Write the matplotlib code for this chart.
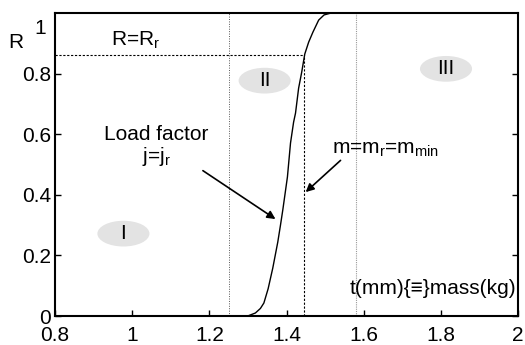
import matplotlib
matplotlib.use('Agg')
import matplotlib.pyplot as plt
from matplotlib.patches import Ellipse

plt.rcParams['font.family'] = ['Liberation Sans', 'DejaVu Sans']

# S-curve R(t)
t = [0.8, 1.299, 1.319, 1.332, 1.341, 1.352, 1.364, 1.377, 1.384, 1.390, 1.402, 1.410, 1.418,
     1.423, 1.431, 1.439, 1.447, 1.457, 1.468, 1.483, 1.497, 1.514, 2.0]
R = [0.0, 0.0, 0.01, 0.025, 0.043, 0.09, 0.158, 0.244, 0.30, 0.35, 0.459, 0.571, 0.64,
     0.67, 0.752, 0.805, 0.865, 0.904, 0.937, 0.977, 0.994, 1.0, 1.0]

R_r = 0.862
m_r = 1.444
x_lines = [1.25, 1.579]
x_ticks = [0.8, 1, 1.2, 1.4, 1.6, 1.8, 2]
y_ticks = [0, 0.2, 0.4, 0.6, 0.8]
regions = ['I', 'II', 'III']
region_x = [0.977, 1.343, 1.813]
region_y = [0.272, 0.777, 0.816]

fig = plt.figure(figsize=(5.25, 3.45), dpi=100)
ax = fig.add_axes([0.105, 0.084, 0.882, 0.878])

ax.plot(t, R, color='black', lw=1.0)
ax.plot([0.8, m_r], [R_r, R_r], color='black', lw=0.8, ls=(0, (2, 1.5)))
ax.plot([m_r, m_r], [0, R_r], color='black', lw=0.8, ls=(0, (2, 1.5)))
ax.plot([x_lines[0]] * 2, [0, 1], color='#555555', lw=0.7, ls=(0, (1, 1.5)))
ax.plot([x_lines[1]] * 2, [0, 1], color='#999999', lw=0.8, ls=(0, (1, 1)))

for name, cx, cy in zip(regions, region_x, region_y):
    ax.add_patch(Ellipse((cx, cy), 0.135, 0.085, color='#e3e3e3', lw=0, zorder=1))
    ax.text(cx, cy, name, ha='center', va='center', fontsize=15, zorder=2)

fs = 15
ax.text(1.008, 0.875, r'R=R$_\mathregular{r}$', ha='center', va='bottom', fontsize=fs)
ax.text(1.062, 0.60, 'Load factor', ha='center', va='center', fontsize=fs)
ax.text(1.062, 0.525, r'j=j$_\mathregular{r}$', ha='center', va='center', fontsize=fs)
ax.text(1.657, 0.55, r'm=m$_\mathregular{r}$=m$_\mathregular{min}$', ha='center', va='center', fontsize=fs)
ax.text(1.995, 0.09, 't(mm){\u2261}mass(kg)', ha='right', va='center', fontsize=fs)

ax.annotate('', xy=(1.377, 0.315), xytext=(1.177, 0.485),
            arrowprops=dict(arrowstyle='-|>', color='black', lw=1.2, mutation_scale=12))
ax.annotate('', xy=(1.444, 0.403), xytext=(1.545, 0.52),
            arrowprops=dict(arrowstyle='-|>', color='black', lw=1.2, mutation_scale=12))

ax.set_xlim(0.8, 2)
ax.set_ylim(0, 1.0)
ax.set_xticks(x_ticks)
ax.set_xticklabels(['0.8', '1', '1.2', '1.4', '1.6', '1.8', '2'])
ax.set_yticks(y_ticks)
ax.set_yticklabels(['0', '0.2', '0.4', '0.6', '0.8'])
ax.tick_params(direction='in', labelsize=fs, length=4, width=1, right=True)
ax.tick_params(axis='x', pad=7)
ax.tick_params(axis='y', pad=3)
for s in ax.spines.values():
    s.set_linewidth(1.5)

fig.text(40 / 525, 1 - 28 / 345, '1', ha='center', va='center', fontsize=fs)
fig.text(16 / 525, 1 - 43 / 345, 'R', ha='center', va='center', fontsize=fs)

fig.savefig('out.png', dpi=100)
